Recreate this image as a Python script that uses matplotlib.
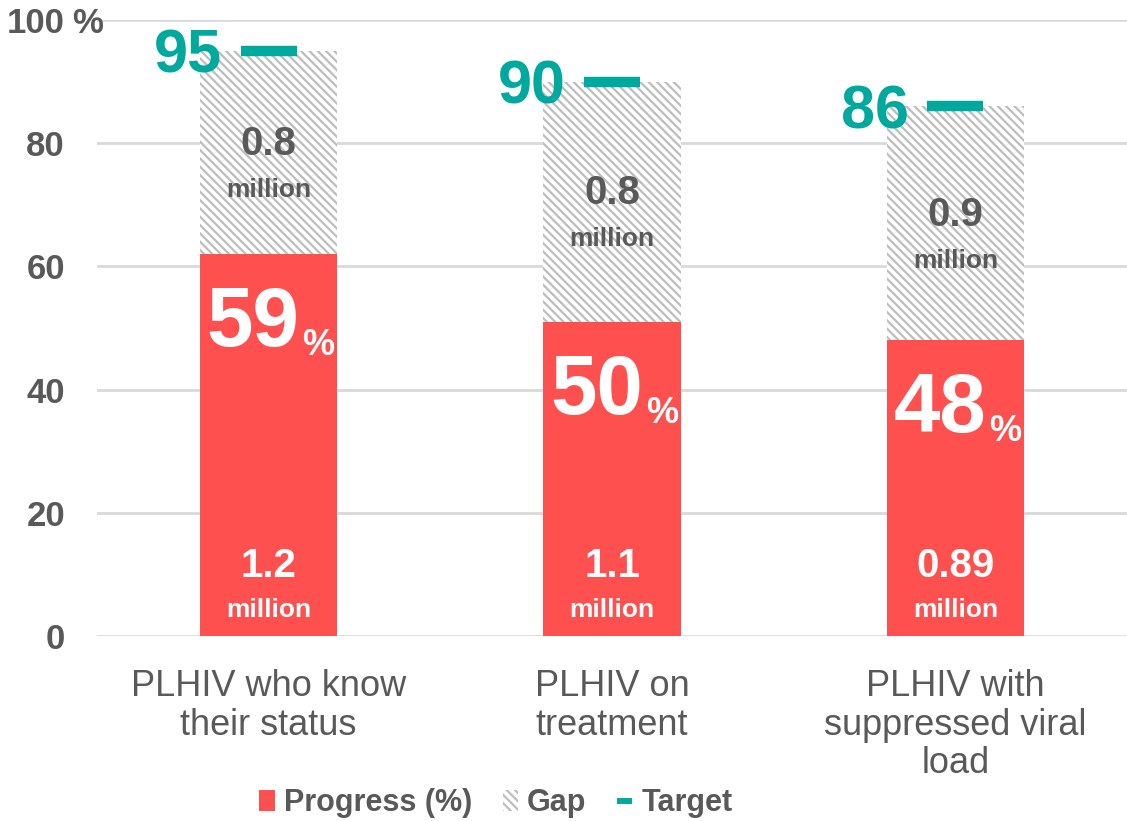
import matplotlib
matplotlib.use('Agg')
import matplotlib.pyplot as plt
from matplotlib.lines import Line2D
import numpy as np

# chart data
categories = ['PLHIV who know\ntheir status', 'PLHIV on\ntreatment', 'PLHIV with\nsuppressed viral\nload']
progress = [62, 51, 48]
targets = [95, 90, 86]
progress_pct_labels = ['59', '50', '48']
progress_million = ['1.2', '1.1', '0.89']
gap_million = ['0.8', '0.8', '0.9']
y_ticks = [0, 20, 40, 60, 80, 100]
y_tick_labels = ['0', '20', '40', '60', '80', '100']

# styling
red = '#FF5050'
teal = '#00A99D'
grey_text = '#595959'
hatch_grey = '#BDBDBD'
font = 'Liberation Sans'

plt.rcParams['font.family'] = font
plt.rcParams['hatch.linewidth'] = 1.6

fig = plt.figure(figsize=(11.27, 8.21), dpi=100)
ax = fig.add_axes([0.086, 0.2253, 0.914, 0.7503])

x = np.arange(len(categories))
gaps = [t - p for t, p in zip(targets, progress)]
width = 0.4

b1 = ax.bar(x, progress, width, color=red, label='Progress (%)', zorder=2)
b2 = ax.bar(x, gaps, width, bottom=progress, facecolor='white', edgecolor=hatch_grey,
            linewidth=0, hatch='\\\\\\\\', label='Gap', zorder=2)
ax.plot(x, targets, linestyle='none', marker='_', markersize=41,
        markeredgewidth=7.5, color=teal, zorder=3)

for i in range(len(x)):
    # target number left of the dash
    ax.text(x[i] - 0.135, targets[i], str(targets[i]), ha='right', va='center_baseline',
            fontsize=44, fontweight='bold', color=teal, zorder=4)
    # big progress percentage
    t = ax.text(x[i] + 0.09, progress[i] - 10, progress_pct_labels[i], ha='right', va='center_baseline',
                fontsize=60, fontweight='bold', color='white', zorder=4)
    ax.annotate('%', xy=(1.0, 0.0), xycoords=t, xytext=(2, 0), textcoords='offset points',
                ha='left', va='bottom', fontsize=26, fontweight='bold', color='white', zorder=4)
    # millions inside the red bar
    ax.text(x[i], 12, progress_million[i], ha='center', va='center_baseline',
            fontsize=29, fontweight='bold', color='white', zorder=4)
    ax.text(x[i], 4.7, 'million', ha='center', va='center_baseline',
            fontsize=19, fontweight='bold', color='white', zorder=4)
    # millions inside the gap
    mid = progress[i] + gaps[i] / 2
    ax.text(x[i], mid + 2, gap_million[i], ha='center', va='center_baseline',
            fontsize=29, fontweight='bold', color=grey_text, zorder=4)
    ax.text(x[i], mid - 5.7, 'million', ha='center', va='center_baseline',
            fontsize=19, fontweight='bold', color=grey_text, zorder=4)

ax.set_xlim(-0.5, 2.5)
ax.set_ylim(0, 100)
ax.set_yticks(y_ticks)
ax.set_yticklabels(y_tick_labels, fontsize=25, fontweight='bold', color=grey_text)
# the "%" after the top tick label
ax.text(-0.024, 1.0, '%', transform=ax.transAxes, ha='left', va='center_baseline',
        fontsize=25, fontweight='bold', color=grey_text)
ax.set_xticks(x)
ax.set_xticklabels(categories, fontsize=26, color=grey_text, linespacing=1.12)
ax.tick_params(axis='both', length=0)
ax.tick_params(axis='x', pad=24)
ax.tick_params(axis='y', pad=23)
ax.grid(axis='y', color='#D9D9D9', linewidth=2, zorder=0)
ax.set_axisbelow(True)
for s in ax.spines.values():
    s.set_visible(False)

target_handle = Line2D([], [], color=teal, linewidth=4.3, solid_capstyle='butt', label='Target')
leg = fig.legend(handles=[b1, b2, target_handle], loc='lower center', bbox_to_anchor=(0.44, -0.03),
                 ncol=3, frameon=False,
                 prop={'family': font, 'size': 22, 'weight': 'bold'},
                 handlelength=0.5, handleheight=0.65, handletextpad=0.3, columnspacing=1.0)
for txt in leg.get_texts():
    txt.set_color(grey_text)

fig.savefig('out.png', dpi=100)
